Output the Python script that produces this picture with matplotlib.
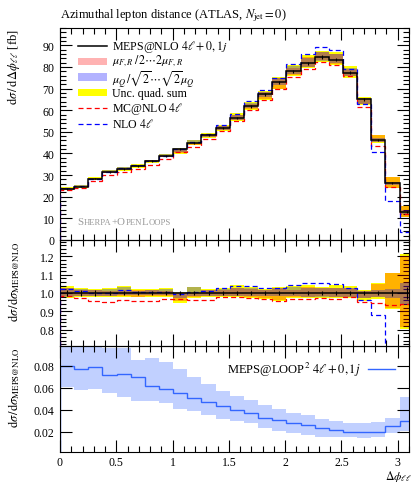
import numpy as np
import matplotlib
matplotlib.use('Agg')
import matplotlib.pyplot as plt
from matplotlib import transforms
from matplotlib.patches import Rectangle
from matplotlib.ticker import MultipleLocator, FixedLocator, NullLocator

plt.rcParams['font.family'] = ['Liberation Serif', 'DejaVu Serif']
plt.rcParams['mathtext.fontset'] = 'stix'

# binning: 25 bins over [0, pi]
nbins = 25
edges = np.linspace(0, np.pi, nbins + 1)

# MEPS@NLO 4l+0,1j [fb]
meps = [23.5, 24.7, 28.4, 31.6, 32.7, 34.2, 36.4, 38.9, 42.1, 44.9, 48.4, 51.6, 56.3,
        61.8, 67.3, 72.9, 78.0, 81.7, 84.6, 83.4, 77.3, 65.0, 46.2, 26.3, 13.0]
meps_stat = [0.4, 0.4, 0.4, 0.4, 0.4, 0.4, 0.4, 0.4, 0.5, 0.5, 0.5, 0.5, 0.5,
             0.6, 0.6, 0.6, 0.6, 0.7, 0.7, 0.7, 0.7, 0.7, 0.6, 0.5, 0.4]

# ratios to MEPS@NLO
mcnlo_ratio = [0.985, 0.971, 0.958, 0.953, 0.964, 0.956, 0.956, 0.967, 0.967, 0.960, 0.964,
               0.978, 0.978, 0.971, 0.965, 0.958, 0.967, 0.969, 0.973, 0.969, 0.978, 0.949,
               0.945, 0.935, 0.940]
nlo_ratio = [1.022, 1.009, 1.000, 0.998, 1.015, 1.007, 1.007, 1.004, 0.996, 1.005, 1.011,
             1.027, 1.036, 1.040, 1.027, 1.027, 1.042, 1.053, 1.053, 1.051, 1.025, 0.964,
             0.878, 0.69, 0.27]

# relative uncertainties (up / down)
scale_up = [0.025, 0.015, 0.014, 0.012, 0.015, 0.018, 0.014, 0.010, 0.000, 0.000, 0.014, 0.018, 0.030,
            0.020, 0.018, 0.025, 0.018, 0.033, 0.025, 0.030, 0.025, 0.010, 0.050, 0.110, 0.205]
scale_dn = [0.015, 0.015, 0.015, 0.018, 0.015, 0.020, 0.015, 0.015, 0.045, 0.020, 0.018, 0.015, 0.015,
            0.020, 0.030, 0.040, 0.020, 0.020, 0.018, 0.022, 0.020, 0.030, 0.022, 0.080, 0.185]
res_up = [0.030, 0.020, 0.015, 0.024, 0.033, 0.010, 0.015, 0.024, 0.005, 0.032, 0.015, 0.020, 0.030,
          0.025, 0.015, 0.025, 0.032, 0.030, 0.025, 0.030, 0.030, 0.010, 0.018, 0.020, 0.055]
res_dn = [0.020, 0.015, 0.015, 0.015, 0.012, 0.012, 0.012, 0.012, 0.030, 0.015, 0.015, 0.015, 0.015,
          0.015, 0.018, 0.018, 0.018, 0.020, 0.020, 0.020, 0.020, 0.030, 0.022, 0.030, 0.065]

# MEPS@LOOP2 4l+0,1j / MEPS@NLO
loop2 = [0.0794, 0.0770, 0.0785, 0.0712, 0.0721, 0.0697, 0.0618, 0.0585, 0.0548, 0.0506, 0.0473,
         0.0430, 0.0398, 0.0367, 0.0324, 0.0306, 0.0276, 0.0264, 0.0233, 0.0215, 0.0200, 0.0200,
         0.0197, 0.0252, 0.0300]
loop2_hi = [0.105, 0.105, 0.105, 0.0965, 0.0958, 0.0855, 0.0875, 0.0830, 0.0770, 0.0700, 0.0630,
            0.0570, 0.0525, 0.0488, 0.0445, 0.0403, 0.0367, 0.0348, 0.0312, 0.0294, 0.0276, 0.0282,
            0.0288, 0.0324, 0.0512]
loop2_lo = [0.0603, 0.0582, 0.0588, 0.0555, 0.0518, 0.0482, 0.0480, 0.0458, 0.0406, 0.0390, 0.0355,
            0.0315, 0.0294, 0.0276, 0.0233, 0.0203, 0.0185, 0.0173, 0.0155, 0.0150, 0.0155, 0.0142,
            0.0150, 0.0185, 0.0203]

meps = np.array(meps)
su, sd = np.array(scale_up), np.array(scale_dn)
ru, rd = np.array(res_up), np.array(res_dn)
qu, qd = np.hypot(su, ru), np.hypot(sd, rd)
width = np.diff(edges)
centers = 0.5 * (edges[1:] + edges[:-1])

fig = plt.figure(figsize=(4.14, 4.85), dpi=100)
L, W = 60 / 414, 349 / 414
ax1 = fig.add_axes([L, 244 / 485, W, 212 / 485])
ax2 = fig.add_axes([L, 138 / 485, W, 106 / 485])
ax3 = fig.add_axes([L, 32 / 485, W, 106 / 485])

YEL = '#ffff00'
DASH = (0, (4, 2.5))


def bands(ax, base):
    ax.bar(edges[:-1], base * (qu + qd), bottom=base * (1 - qd), width=width, align='edge',
           color=YEL, lw=0, zorder=1)
    ax.bar(edges[:-1], base * (su + sd), bottom=base * (1 - sd), width=width, align='edge',
           color='red', alpha=0.3, lw=0, zorder=2)
    ax.bar(edges[:-1], base * (ru + rd), bottom=base * (1 - rd), width=width, align='edge',
           color='blue', alpha=0.3, lw=0, zorder=3)


# main panel
bands(ax1, meps)
ax1.stairs(meps * np.array(mcnlo_ratio), edges, color='red', ls=DASH, lw=0.9, zorder=4)
ax1.stairs(meps * np.array(nlo_ratio), edges, color='blue', ls=DASH, lw=0.9, zorder=4)
ax1.stairs(meps, edges, color='black', lw=1.1, zorder=5)
ax1.errorbar(centers, meps, yerr=meps_stat, fmt='none', ecolor='black', elinewidth=0.8, zorder=5)
ax1.set_ylim(0, 98)

# ratio panel
bands(ax2, np.ones(nbins))
ax2.stairs(mcnlo_ratio, edges, color='red', ls=DASH, lw=0.9, zorder=4)
ax2.stairs(nlo_ratio, edges, color='blue', ls=DASH, lw=0.9, zorder=4)
ax2.stairs(np.ones(nbins), edges, color='black', lw=1.1, zorder=5)
ax2.errorbar(centers, np.ones(nbins), yerr=np.array(meps_stat) / meps, fmt='none',
             ecolor='black', elinewidth=0.8, zorder=5)
ax2.set_ylim(0.71, 1.29)

# bottom panel
ax3.bar(edges[:-1], np.array(loop2_hi) - np.array(loop2_lo), bottom=loop2_lo, width=width,
        align='edge', color='#3366ff', alpha=0.3, lw=0)
ax3.stairs(loop2, edges, color='#3366ff', lw=1.0)
ax3.set_ylim(0.0015, 0.098)

for ax in (ax1, ax2, ax3):
    ax.set_xlim(0, 3.1)
    ax.xaxis.set_major_locator(MultipleLocator(0.5))
    ax.xaxis.set_minor_locator(MultipleLocator(0.1))
    ax.tick_params(which='both', direction='in', top=True, right=True, width=0.8,
                   labelsize=8.5, pad=4)
    ax.tick_params(which='major', length=8.5)
    ax.tick_params(which='minor', length=4)
    for s in ax.spines.values():
        s.set_linewidth(0.8)
    ax.set_facecolor('none')

ax1.yaxis.set_major_locator(MultipleLocator(10))
ax1.yaxis.set_minor_locator(MultipleLocator(2))
ax2.yaxis.set_major_locator(FixedLocator([0.8, 0.9, 1.0, 1.1, 1.2]))
ax2.yaxis.set_minor_locator(MultipleLocator(0.02))
ax2.set_yticklabels(['0.8', '0.9', '1.0', '1.1', '1.2'])
ax3.yaxis.set_major_locator(FixedLocator([0.02, 0.04, 0.06, 0.08]))
ax3.yaxis.set_minor_locator(NullLocator())
ax3.set_yticklabels(['0.02', '0.04', '0.06', '0.08'])
ax1.tick_params(labelbottom=False)
ax2.tick_params(labelbottom=False)
ax3.set_xticks([0, 0.5, 1, 1.5, 2, 2.5, 3])
ax3.set_xticklabels(['0', '0.5', '1', '1.5', '2', '2.5', '3'])
ax3.tick_params(axis='x', pad=3)

# axis labels
ax1.set_ylabel(r'$\mathrm{d}\sigma\,/\,\mathrm{d}\Delta\phi_{\ell\ell}$ [fb]', fontsize=9, loc='top')
ax2.set_ylabel(r'$\mathrm{d}\sigma\,/\mathrm{d}\sigma_{\mathrm{MEPS@NLO}}$', fontsize=9, loc='top')
ax3.set_ylabel(r'$\mathrm{d}\sigma\,/\mathrm{d}\sigma_{\mathrm{MEPS@NLO}}$', fontsize=9, loc='top')
for ax in (ax1, ax2, ax3):
    ax.yaxis.set_label_coords(-0.11, 1.0)
fig.text(412 / 414, 1 / 485, r'$\Delta\phi_{\ell\ell}$', fontsize=8.5, ha='right', va='bottom')

fig.text(L, 1 - 18 / 485, r'Azimuthal lepton distance (ATLAS, $N_{\rm jet}=0$)',
         fontsize=9, ha='left', va='baseline')

# main legend (label offsets keep the maths boxes apart)
entries = [
    ('line', dict(color='black', lw=1.1), r'MEPS@NLO $4\ell+0,1j$', 0.0),
    ('patch', ('red', 0.3), r'$\mu_{F,R}\,/\,2\cdots2\mu_{F,R}$', 0.006),
    ('patch', ('blue', 0.3), r'$\mu_Q\,/\sqrt{2}\cdots\sqrt{2}\mu_Q$', -0.006),
    ('patch', (YEL, 1.0), 'Unc. quad. sum', 0.0),
    ('line', dict(color='red', lw=0.9, ls=DASH), r'MC@NLO $4\ell$', 0.0),
    ('line', dict(color='blue', lw=0.9, ls=DASH), r'NLO $4\ell$', 0.0),
]
y0, dy = 0.9165, 0.0738
hx0, hx1, tx = 0.0516, 0.1347, 0.149
for i, (kind, sty, lab, off) in enumerate(entries):
    y = y0 - i * dy
    if kind == 'line':
        ax1.plot([hx0, hx1], [y, y], transform=ax1.transAxes, **sty)
    else:
        ax1.add_patch(Rectangle((hx0, y - 0.017), hx1 - hx0, 0.034, transform=ax1.transAxes,
                                color=sty[0], alpha=sty[1], lw=0))
    ax1.text(tx, y + off, lab, transform=ax1.transAxes, fontsize=8.6, va='center', ha='left')

# Sherpa+OpenLoops in small caps
renderer = fig.canvas.get_renderer()
tr = ax1.transAxes
for s, big in [('S', True), ('HERPA', False), ('+O', True), ('PEN', False), ('L', True), ('OOPS', False)]:
    t = ax1.text(0.0507, 0.0755, s, transform=tr, fontsize=7.8 if big else 6.2,
                 color='#9a9a9a', va='baseline', ha='left')
    w = t.get_window_extent(renderer=renderer).width
    tr = tr + transforms.Affine2D().translate(w, 0)

# bottom legend
ax3.text(0.8625, 0.783, r'MEPS@LOOP$^2$ $4\ell+0,1j$', transform=ax3.transAxes, fontsize=9,
         ha='right', va='center')
ax3.plot([0.8825, 0.96], [0.783, 0.783], transform=ax3.transAxes, color='#3366ff', lw=1.0)

fig.savefig('out.png', dpi=100)
